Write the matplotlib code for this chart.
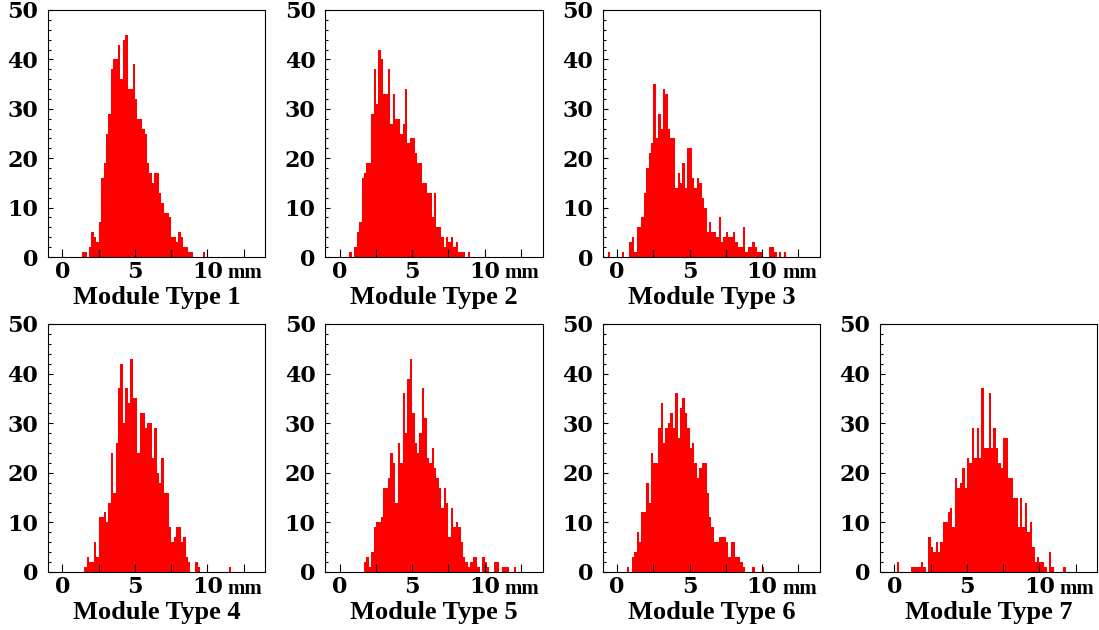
import matplotlib
matplotlib.use("Agg")
import matplotlib.pyplot as plt
import numpy as np
from matplotlib.ticker import FixedLocator, FixedFormatter, MultipleLocator

# 90 bins of 1/6 mm from -1 to 14 mm
x_lo, x_hi, n_bins = -1.0, 14.0, 90
edges = np.linspace(x_lo, x_hi, n_bins + 1)

titles = ["Module Type 1", "Module Type 2", "Module Type 3", "Module Type 4",
          "Module Type 5", "Module Type 6", "Module Type 7"]

# first non-empty bin index, then bin contents
start_1 = 14
counts_1 = [1, 1, 0, 2, 5, 4, 3, 7, 16, 19, 25, 29, 38, 40, 40, 43, 36, 44, 45, 34,
            34, 39, 32, 28, 28, 26, 25, 19, 17, 15, 17, 17, 13, 11, 9, 9, 8, 4, 4, 3,
            5, 4, 2, 2, 1, 1, 0, 0, 0, 0, 1]
start_2 = 10
counts_2 = [1, 0, 2, 5, 7, 16, 17, 19, 19, 29, 38, 31, 42, 40, 33, 33, 38, 27, 33, 28,
            28, 25, 27, 34, 23, 24, 24, 21, 19, 19, 15, 15, 13, 13, 8, 13, 6, 6, 4, 2,
            4, 3, 4, 2, 3, 1, 1, 1, 0, 1]
start_3 = 2
counts_3 = [1, 0, 0, 0, 0, 0, 1, 0, 0, 3, 4, 1, 6, 6, 8, 13, 18, 21, 23, 35,
            24, 29, 26, 34, 33, 26, 24, 24, 14, 17, 15, 19, 14, 22, 22, 16, 14, 16, 15, 12,
            10, 5, 7, 5, 5, 4, 8, 3, 4, 5, 4, 4, 5, 3, 2, 2, 6, 1, 2, 2,
            3, 2, 1, 1, 0, 0, 0, 2, 2, 1, 0, 1, 0, 1]
start_4 = 15
counts_4 = [1, 3, 2, 2, 6, 3, 11, 11, 12, 10, 14, 24, 16, 26, 37, 42, 30, 37, 34, 43,
            35, 35, 24, 32, 32, 29, 30, 30, 23, 29, 20, 18, 23, 16, 16, 9, 6, 7, 9, 9,
            6, 7, 3, 2, 0, 0, 2, 1, 0, 0, 0, 0, 0, 0, 0, 0, 0, 0, 0, 0, 1]
start_5 = 16
counts_5 = [2, 3, 1, 4, 9, 10, 10, 11, 17, 17, 19, 24, 22, 14, 26, 22, 36, 28, 39, 43,
            32, 26, 24, 28, 37, 31, 23, 22, 25, 21, 19, 17, 13, 17, 14, 7, 13, 9, 10, 9,
            6, 3, 2, 1, 2, 3, 3, 1, 0, 3, 2, 1, 0, 0, 2, 2, 0, 1, 1, 1, 0, 0, 1]
start_6 = 10
counts_6 = [1, 0, 3, 4, 8, 6, 12, 12, 18, 14, 24, 22, 22, 29, 34, 26, 29, 30, 32, 29,
            36, 27, 33, 35, 32, 29, 25, 26, 22, 19, 21, 22, 22, 16, 11, 9, 6, 6, 7, 7,
            7, 6, 3, 6, 6, 3, 3, 2, 1, 0, 0, 0, 1, 0, 0, 0, 1]
start_7 = 7
counts_7 = [2, 0, 0, 0, 0, 0, 1, 1, 1, 1, 2, 1, 0, 7, 5, 4, 6, 4, 6, 10,
            10, 12, 13, 9, 19, 17, 18, 21, 17, 23, 22, 29, 23, 29, 23, 37, 25, 25, 36, 25,
            29, 25, 22, 21, 27, 27, 19, 19, 15, 15, 9, 15, 9, 14, 8, 10, 5, 2, 3, 2,
            2, 1, 0, 4, 1, 0, 0, 0, 0, 1]

starts = [start_1, start_2, start_3, start_4, start_5, start_6, start_7]
counts = [counts_1, counts_2, counts_3, counts_4, counts_5, counts_6, counts_7]

# panel slots: (row, column)
slots = [(0, 0), (0, 1), (0, 2), (1, 0), (1, 1), (1, 2), (1, 3)]

W, H = 1099, 630
fig = plt.figure(figsize=(W / 100, H / 100), dpi=100)

col_left = [48, 325.3, 602.7, 880]
ax_w = 217.3
row_top = [10, 324]
row_bot = [257, 572]

tick_font = dict(family="DejaVu Serif", weight="bold", size=16)

for i in range(7):
    r, c = slots[i]
    left = col_left[c] / W
    bottom = 1 - row_bot[r] / H
    height = (row_bot[r] - row_top[r]) / H
    ax = fig.add_axes([left, bottom, ax_w / W, height])

    full = np.zeros(n_bins)
    full[starts[i]:starts[i] + len(counts[i])] = counts[i]
    ax.stairs(full, edges, fill=True, color="#ff0000", lw=0)

    ax.set_xlim(x_lo, x_hi)
    ax.set_ylim(0, 50)

    ax.xaxis.set_major_locator(FixedLocator([0, 2.5, 5, 7.5, 10, 12.5]))
    ax.xaxis.set_major_formatter(FixedFormatter(["0", "", "5", "", "10", ""]))
    ax.yaxis.set_major_locator(MultipleLocator(10))
    ax.yaxis.set_minor_locator(MultipleLocator(2))

    ax.tick_params(axis="x", which="major", direction="in", length=5.8, width=0.8,
                   pad=3, top=False)
    ax.tick_params(axis="y", which="major", direction="in", length=3.8, width=0.8,
                   pad=7, right=False)
    ax.tick_params(axis="y", which="minor", direction="in", length=2.2, width=0.8,
                   right=False)
    for lab in ax.get_xticklabels() + ax.get_yticklabels():
        lab.set_fontfamily(tick_font["family"])
        lab.set_fontweight(tick_font["weight"])
        lab.set_fontsize(tick_font["size"])

    for sp in ax.spines.values():
        sp.set_linewidth(0.8)
        sp.set_color("black")

    ax.text(0.985, -0.087, "mm", transform=ax.transAxes, ha="right", va="baseline",
            family="Liberation Serif", weight="bold", fontsize=15)
    ax.text(0.5, -0.19, titles[i], transform=ax.transAxes, ha="center", va="baseline",
            family="Liberation Serif", weight="bold", fontsize=19)

fig.savefig("out.png", dpi=100)
